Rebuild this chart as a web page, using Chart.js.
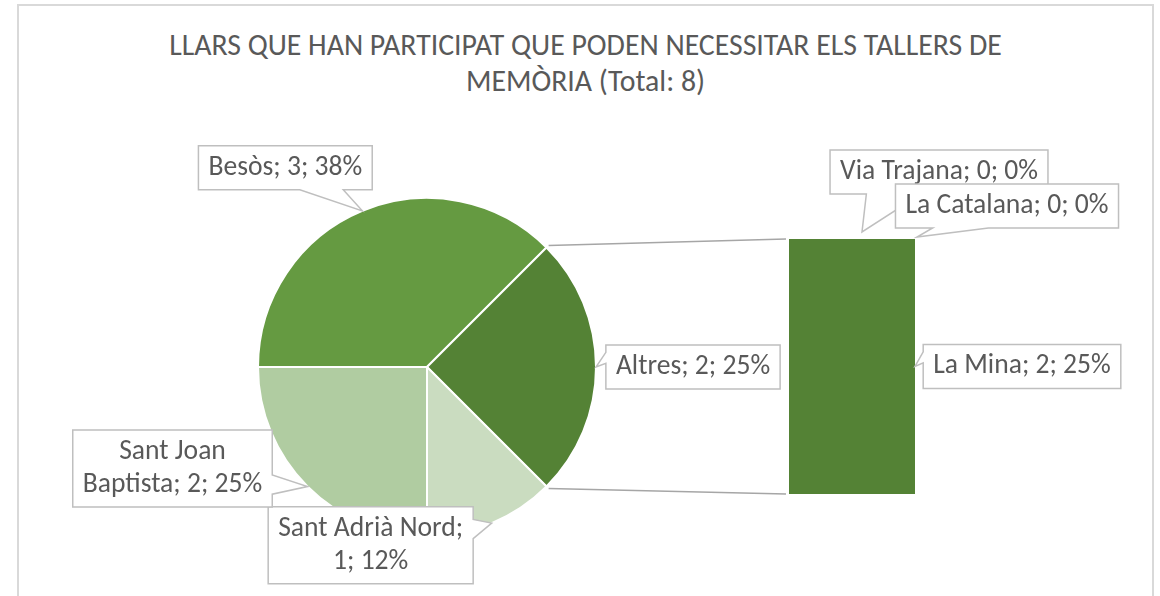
<!DOCTYPE html>
<html>
<head>
<meta charset="utf-8">
<script src="https://cdn.jsdelivr.net/npm/chart.js@4.4.0/dist/chart.umd.min.js"></script>
<style>
  html, body { margin: 0; padding: 0; background: #fff; }
  #wrap { position: relative; width: 1160px; height: 596px; overflow: hidden; }
  #frame { position: absolute; left: 17px; top: 4px; width: 1137px; height: 640px; border: 2px solid #d9d9d9; box-sizing: border-box; }
  #title { position: absolute; left: 18px; width: 1135px; top: 27px; text-align: center;
           font-family: Carlito, Lato, sans-serif; font-size: 29.8px; line-height: 36px; color: #595959; }
  canvas { position: absolute; left: 0; top: 0; }
</style>
</head>
<body>
<div id="wrap">
  <div id="frame"></div>
  <div id="title"></div>
  <canvas id="pieChart" width="1160" height="596"></canvas>
  <canvas id="barChart" width="1160" height="596"></canvas>
</div>
<script>
// dades del grafic (pastis principal + barra "Altres")
const pieLabels = ["Besòs", "Altres", "Sant Adrià Nord", "Sant Joan Baptista"];
const pieValues = [3, 2, 1, 2];
const pieColors = ["#659a41", "#548235", "#cadcc0", "#b0cca1"];

const barLabels = ["La Mina", "La Catalana", "Via Trajana"];
const barValues = [2, 0, 0];
const barColors = ["#548235", "#548235", "#548235"];

const titleText = "LLARS QUE HAN PARTICIPAT QUE PODEN NECESSITAR ELS TALLERS DE";
const titleText2 = "MEMÒRIA";

const total = pieValues.reduce((a, b) => a + b, 0);
const barTotal = barValues.reduce((a, b) => a + b, 0);

document.getElementById("title").innerHTML =
  titleText + "<br>" + titleText2 + " (Total: " + total + ")";

// estil de les etiquetes
const LABEL_FONT = "27.6px Carlito, Lato, sans-serif";
const LABEL_COLOR = "#595959";
const BOX_STROKE = "#bfbfbf";
const PAD_X = 10, PAD_Y = 9, LINE_H = 33;

// posicio de cada caixa respecte a la punta (dx, dy = centre de la caixa)
const pieCallouts = {
  "Besòs": { dx: -77, dy: -43 },
  "Altres": { dx: 97, dy: 0 },
  "Sant Adrià Nord": { dx: -121, dy: 22, split: 3 },
  "Sant Joan Baptista": { dx: -135, dy: -18, split: 2 }
};
const barCallouts = {
  "La Mina": { at: "right", tx: 0, ty: 0, dx: 107, dy: 0 },
  "La Catalana": { at: "topRight", tx: 2, ty: -2, dx: 90, dy: -31 },
  "Via Trajana": { at: "top", tx: 10, ty: -7, dx: 77, dy: -60 }
};

// arrodoniment com Excel (12,5 -> 12 ; 37,5 -> 38)
function roundHalfEven(x) {
  const f = Math.floor(x);
  if (Math.abs(x - f - 0.5) < 1e-9) return f % 2 === 0 ? f : f + 1;
  return Math.round(x);
}

function labelText(name, v) {
  return name + "; " + v + "; " + roundHalfEven(v / total * 100) + "%";
}

function drawCallout(ctx, text, tip, cfg) {
  ctx.save();
  ctx.font = LABEL_FONT;
  let lines = [text];
  if (cfg.split) {
    const words = text.split(" ");
    lines = [words.slice(0, cfg.split).join(" "), words.slice(cfg.split).join(" ")];
  }
  const tw = Math.max(...lines.map(l => ctx.measureText(l).width));
  const w = tw + 2 * PAD_X, h = lines.length * LINE_H - (LINE_H - 26) + 2 * PAD_Y;
  const cx = tip.x + cfg.dx, cy = tip.y + cfg.dy;
  const x0 = cx - w / 2, y0 = cy - h / 2, x1 = x0 + w, y1 = y0 + h;

  // de quin costat surt el "bec" de la caixa
  const nx = (tip.x - cx) / (w / 2), ny = (tip.y - cy) / (h / 2);
  let side = null;
  if (Math.abs(nx) > 1 || Math.abs(ny) > 1) {
    side = Math.abs(nx) > Math.abs(ny) ? (nx > 0 ? "right" : "left") : (ny > 0 ? "bottom" : "top");
  }
  const fx = tip.x > cx ? [7 / 12, 5 / 6] : [1 / 6, 5 / 12];
  const fy = tip.y > cy ? [7 / 12, 5 / 6] : [1 / 6, 5 / 12];

  ctx.beginPath();
  ctx.moveTo(x0, y0);
  if (side === "top") { ctx.lineTo(x0 + w * fx[0], y0); ctx.lineTo(tip.x, tip.y); ctx.lineTo(x0 + w * fx[1], y0); }
  ctx.lineTo(x1, y0);
  if (side === "right") { ctx.lineTo(x1, y0 + h * fy[0]); ctx.lineTo(tip.x, tip.y); ctx.lineTo(x1, y0 + h * fy[1]); }
  ctx.lineTo(x1, y1);
  if (side === "bottom") { ctx.lineTo(x0 + w * fx[1], y1); ctx.lineTo(tip.x, tip.y); ctx.lineTo(x0 + w * fx[0], y1); }
  ctx.lineTo(x0, y1);
  if (side === "left") { ctx.lineTo(x0, y0 + h * fy[1]); ctx.lineTo(tip.x, tip.y); ctx.lineTo(x0, y0 + h * fy[0]); }
  ctx.closePath();
  ctx.fillStyle = "#fff";
  ctx.fill();
  ctx.strokeStyle = BOX_STROKE;
  ctx.lineWidth = 1.5;
  ctx.stroke();

  ctx.fillStyle = LABEL_COLOR;
  ctx.textAlign = "center";
  ctx.textBaseline = "middle";
  lines.forEach((l, i) => {
    ctx.fillText(l, cx, y0 + PAD_Y + 13 + i * LINE_H);
  });
  ctx.restore();
}

// etiquetes del pastis
const pieLabelPlugin = {
  id: "pieLabels",
  afterDraw(chart) {
    const ctx = chart.ctx;
    const meta = chart.getDatasetMeta(0);
    meta.data.forEach((arc, i) => {
      const p = arc.getProps(["x", "y", "startAngle", "endAngle", "outerRadius"], true);
      const mid = (p.startAngle + p.endAngle) / 2;
      const tip = { x: p.x + Math.cos(mid) * p.outerRadius, y: p.y + Math.sin(mid) * p.outerRadius };
      drawCallout(ctx, labelText(pieLabels[i], pieValues[i]), tip, pieCallouts[pieLabels[i]]);
    });
  }
};

const pieChart = new Chart(document.getElementById("pieChart"), {
  type: "pie",
  data: {
    labels: pieLabels,
    datasets: [{
      data: pieValues,
      backgroundColor: pieColors,
      borderColor: "#fff",
      borderWidth: 2
    }]
  },
  options: {
    responsive: false,
    animation: false,
    events: [],
    rotation: -90,
    layout: { padding: { left: 257, right: 563, top: 197, bottom: 59 } },
    plugins: { legend: { display: false }, tooltip: { enabled: false } }
  },
  plugins: [pieLabelPlugin]
});

// linies d'unio pastis -> barra + etiquetes de la barra
const barLabelPlugin = {
  id: "barLabels",
  afterDraw(chart) {
    const ctx = chart.ctx;
    const arc = pieChart.getDatasetMeta(0).data[pieLabels.indexOf("Altres")];
    const p = arc.getProps(["x", "y", "startAngle", "endAngle", "outerRadius"], true);
    const area = chart.chartArea;
    const r = p.outerRadius + 3;
    ctx.save();
    ctx.strokeStyle = "#a6a6a6";
    ctx.lineWidth = 1.5;
    ctx.beginPath();
    ctx.moveTo(p.x + Math.cos(p.startAngle) * r, p.y + Math.sin(p.startAngle) * r);
    ctx.lineTo(area.left - 3, area.top);
    ctx.moveTo(p.x + Math.cos(p.endAngle) * r, p.y + Math.sin(p.endAngle) * r);
    ctx.lineTo(area.left - 3, area.bottom);
    ctx.stroke();
    ctx.restore();

    for (let i = barLabels.length - 1; i >= 0; i--) {
      const bar = chart.getDatasetMeta(i).data[0];
      const b = bar.getProps(["x", "y", "base", "width"], true);
      const cfg = barCallouts[barLabels[i]];
      let tip;
      if (cfg.at === "right") tip = { x: b.x + b.width / 2, y: (b.y + b.base) / 2 };
      else if (cfg.at === "topRight") tip = { x: b.x + b.width / 2, y: b.y };
      else tip = { x: b.x, y: b.y };
      tip.x += cfg.tx; tip.y += cfg.ty;
      drawCallout(ctx, labelText(barLabels[i], barValues[i]), tip, cfg);
    }
  }
};

new Chart(document.getElementById("barChart"), {
  type: "bar",
  data: {
    labels: [""],
    datasets: barLabels.map((name, i) => ({
      label: name,
      data: [barValues[i]],
      backgroundColor: barColors[i],
      borderWidth: 0,
      barPercentage: 1,
      categoryPercentage: 1
    }))
  },
  options: {
    responsive: false,
    animation: false,
    events: [],
    layout: { padding: { left: 789, right: 245, top: 239, bottom: 102 } },
    scales: {
      x: { stacked: true, display: false },
      y: { stacked: true, display: false, min: 0, max: barTotal }
    },
    plugins: { legend: { display: false }, tooltip: { enabled: false } }
  },
  plugins: [barLabelPlugin]
});
</script>
</body>
</html>
